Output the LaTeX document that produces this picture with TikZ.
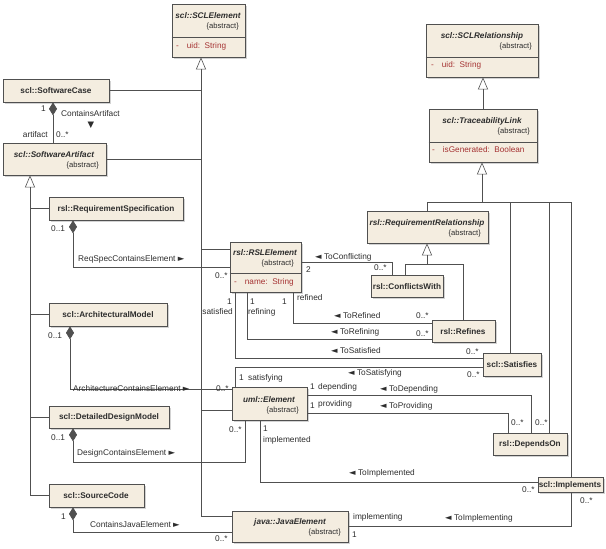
\documentclass[tikz,border=0pt]{standalone}
\usepackage{fontspec}
\setmainfont{Liberation Sans}
\newfontfamily\symfont{DejaVu Sans}
\usetikzlibrary{arrows.meta,shadows}

\definecolor{boxfill}{RGB}{244,237,224}
\definecolor{boxline}{RGB}{80,80,80}
\definecolor{attrred}{RGB}{165,50,50}
\definecolor{txtgray}{RGB}{45,45,45}
\newcommand{\nav}[1]{{\symfont\fontsize{8.5}{8.5}\selectfont #1}}

\tikzset{
  cls/.style={draw=boxline, fill=boxfill, line width=.7pt, inner sep=0pt,
    drop shadow={shadow xshift=1.5pt, shadow yshift=-1.5pt, opacity=.35}},
  title/.style={font=\bfseries\fontsize{8.2}{9}\selectfont, text=txtgray},
  atitle/.style={font=\bfseries\itshape\fontsize{8.2}{9}\selectfont, text=txtgray},
  abst/.style={anchor=east, inner sep=0pt, font=\fontsize{7.6}{9}\selectfont, text=txtgray},
  attr/.style={anchor=west, inner sep=0pt, font=\fontsize{8.2}{9}\selectfont, text=attrred},
  lbl/.style={anchor=west, inner sep=0pt, font=\fontsize{8.3}{9}\selectfont, text=txtgray},
  lble/.style={lbl, anchor=east},
  conn/.style={draw=boxline, line width=.6pt},
  gen/.style={conn, -{Triangle[open, length=12pt, width=10pt]}},
  comp/.style={conn, {Diamond[length=13pt, width=8pt]}-},
}

\begin{document}
\begin{tikzpicture}[x=1pt, y=-1pt]
\useasboundingbox (0,0) rectangle (606,549);

% classes
\node (sclel) at (208.5, 30.5) [cls, minimum width=73pt, minimum height=53pt] {};
\node (rel) at (482, 50.5) [cls, minimum width=112pt, minimum height=53pt] {};
\node (tl) at (483, 135.5) [cls, minimum width=108pt, minimum height=53pt] {};
\node (sc) at (56, 90.5) [cls, minimum width=106pt, minimum height=23pt] {};
\node (sa) at (54.5, 159) [cls, minimum width=103pt, minimum height=32pt] {};
\node (req) at (116, 208.5) [cls, minimum width=134pt, minimum height=23pt] {};
\node (arch) at (108, 314.5) [cls, minimum width=118pt, minimum height=23pt] {};
\node (rsl) at (265.5, 267) [cls, minimum width=71pt, minimum height=50pt] {};
\node (rr) at (427.5, 227) [cls, minimum width=121pt, minimum height=32pt] {};
\node (cw) at (407, 286) [cls, minimum width=72pt, minimum height=22pt] {};
\node (ref) at (463.5, 331) [cls, minimum width=63pt, minimum height=22pt] {};
\node (sat) at (512, 364.5) [cls, minimum width=58pt, minimum height=23pt] {};
\node (uml) at (269.5, 403.5) [cls, minimum width=75pt, minimum height=33pt] {};
\node (ddm) at (109, 417) [cls, minimum width=120pt, minimum height=22pt] {};
\node (dep) at (530, 444) [cls, minimum width=74pt, minimum height=22pt] {};
\node (impl) at (570.5, 484.5) [cls, minimum width=65pt, minimum height=15pt] {};
\node (src) at (96.5, 495.5) [cls, minimum width=95pt, minimum height=23pt] {};
\node (java) at (290, 526.5) [cls, minimum width=116pt, minimum height=31pt] {};

% compartments
\draw [conn] (sclel.west |- 0,37) -- (sclel.east |- 0,37);
\draw [conn] (rel.west |- 0,57) -- (rel.east |- 0,57);
\draw [conn] (tl.west |- 0,142) -- (tl.east |- 0,142);
\draw [conn] (rsl.west |- 0,273) -- (rsl.east |- 0,273);

% class texts
\node at (208, 16) [atitle] {scl::SCLElement};
\node at (239, 27) [abst] {\{abstract\}};
\node at (176, 46) [attr] {-\hspace{8pt}uid:\ \ String};
\node at (482, 36) [atitle] {scl::SCLRelationship};
\node at (532, 47) [abst] {\{abstract\}};
\node at (431, 65) [attr] {-\hspace{8pt}uid:\ \ String};
\node at (482, 121) [atitle] {scl::TraceabilityLink};
\node at (530, 132) [abst] {\{abstract\}};
\node at (432, 150) [attr] {-\hspace{8pt}isGenerated:\ \ Boolean};
\node at (56, 91) [title] {scl::SoftwareCase};
\node at (54, 155) [atitle] {scl::SoftwareArtifact};
\node at (99, 166) [abst] {\{abstract\}};
\node at (116, 209) [title] {rsl::RequirementSpecification};
\node at (108, 315) [title] {scl::ArchitecturalModel};
\node at (265, 253) [atitle] {rsl::RSLElement};
\node at (294, 264) [abst] {\{abstract\}};
\node at (234, 282) [attr] {-\hspace{8pt}name:\ \ String};
\node at (427, 223) [atitle] {rsl::RequirementRelationship};
\node at (481, 234) [abst] {\{abstract\}};
\node at (407, 287) [title] {rsl::ConflictsWith};
\node at (463, 332) [title] {rsl::Refines};
\node at (512, 365) [title] {scl::Satisfies};
\node at (269, 400) [atitle] {uml::Element};
\node at (299, 411) [abst] {\{abstract\}};
\node at (109, 417) [title] {scl::DetailedDesignModel};
\node at (530, 444) [title] {rsl::DependsOn};
\node at (570, 485) [title] {scl::Implements};
\node at (96, 496) [title] {scl::SourceCode};
\node at (290, 522) [atitle] {java::JavaElement};
\node at (341, 533) [abst] {\{abstract\}};

% generalizations
\draw [gen] (java.west |- 0,516) -| (201,0 |- sclel.south);
\draw [conn] (sc.east) -- (sc.east -| 201,0);
\draw [conn] (sa.east) -- (sa.east -| 201,0);
\draw [conn] (rsl.west |- 0,249) -- (201,249);
\draw [conn] (uml.west |- 0,410) -- (201,410);
\draw [gen] (src.west) -| (30,0 |- sa.south);
\draw [conn] (req.west) -- (req.west -| 30,0);
\draw [conn] (arch.west) -- (arch.west -| 30,0);
\draw [conn] (ddm.west) -- (ddm.west -| 30,0);
\draw [gen] (tl.north) -- (tl.north |- rel.south);
\draw [gen] (482,202) -- (482,0 |- tl.south);
\draw [conn] (rr.north) |- (571,202) -- (571,0 |- impl.north);
\draw [conn] (510,202) -- (510,0 |- sat.north);
\draw [conn] (549,202) -- (549,0 |- dep.north);
\draw [gen] (427,264) -- (427,0 |- rr.south);
\draw [conn] (405,0 |- cw.north) |- (463,264) -- (463,0 |- ref.north);

% compositions
\draw [comp] (53,0 |- sc.south) -- (53,0 |- sa.north);
\draw [comp] (73,0 |- req.south) |- (rsl.west);
\draw [comp] (70,0 |- arch.south) |- (uml.west |- 0,389);
\draw [comp] (73,0 |- ddm.south) |- (245,462) -- (245,0 |- uml.south);
\draw [comp] (73,0 |- src.south) |- (java.west |- 0,532);

% associations
\draw [conn] (rsl.east |- 0,262) -| (392,0 |- cw.north);
\draw [conn] (293,0 |- rsl.south) |- (ref.west |- 0,323);
\draw [conn] (247,0 |- rsl.south) |- (ref.west |- 0,339);
\draw [conn] (235,0 |- rsl.south) |- (sat.west |- 0,358);
\draw [conn] (235,0 |- uml.north) |- (sat.west |- 0,367);
\draw [conn] (uml.east |- 0,395) -| (531,0 |- dep.north);
\draw [conn] (uml.east |- 0,413) -| (508,0 |- dep.north);
\draw [conn] (260,0 |- uml.south) |- (impl.west |- 0,482);
\draw [conn] (java.east |- 0,526) -| (571,0 |- impl.south);

% labels
\node at (41, 109) [lbl] {1};
\node at (61, 114) [lbl] {ContainsArtifact};
\node at (91, 125) [lbl, anchor=center] {\nav{▼}};
\node at (48, 135) [lble] {artifact};
\node at (56, 135) [lbl] {0..*};
\node at (51, 229) [lbl] {0..1};
\node at (78, 259) [lbl] {ReqSpecContainsElement \nav{►}};
\node at (215, 276) [lbl] {0..*};
\node at (48, 336) [lbl] {0..1};
\node at (73, 389) [lbl] {ArchitectureContainsElement \nav{►}};
\node at (216, 389) [lbl] {0..*};
\node at (51, 438) [lbl] {0..1};
\node at (77, 453) [lbl] {DesignContainsElement \nav{►}};
\node at (229, 430) [lbl] {0..*};
\node at (61, 517) [lbl] {1};
\node at (90, 525) [lbl] {ContainsJavaElement \nav{►}};
\node at (215, 539) [lbl] {0..*};
\node at (315, 257) [lbl] {\nav{◄} ToConflicting};
\node at (306, 270) [lbl] {2};
\node at (374, 268) [lbl] {0..*};
\node at (282, 302) [lbl] {1};
\node at (297, 298) [lbl] {refined};
\node at (250, 302) [lbl] {1};
\node at (248, 312) [lbl] {refining};
\node at (227, 302) [lbl] {1};
\node at (233, 312) [lble] {satisfied};
\node at (334, 316) [lbl] {\nav{◄} ToRefined};
\node at (416, 316) [lbl] {0..*};
\node at (331, 332) [lbl] {\nav{◄} ToRefining};
\node at (416, 334) [lbl] {0..*};
\node at (331, 351) [lbl] {\nav{◄} ToSatisfied};
\node at (466, 352) [lbl] {0..*};
\node at (239, 378) [lbl] {1};
\node at (248, 378) [lbl] {satisfying};
\node at (348, 373) [lbl] {\nav{◄} ToSatisfying};
\node at (467, 375) [lbl] {0..*};
\node at (310, 387) [lbl] {1};
\node at (318, 387) [lbl] {depending};
\node at (380, 389) [lbl] {\nav{◄} ToDepending};
\node at (310, 406) [lbl] {1};
\node at (318, 404) [lbl] {providing};
\node at (380, 406) [lbl] {\nav{◄} ToProviding};
\node at (511, 423) [lbl] {0..*};
\node at (535, 423) [lbl] {0..*};
\node at (263, 429) [lbl] {1};
\node at (263, 440) [lbl] {implemented};
\node at (349, 473) [lbl] {\nav{◄} ToImplemented};
\node at (522, 490) [lbl] {0..*};
\node at (353, 517) [lbl] {implementing};
\node at (352, 535) [lbl] {1};
\node at (445, 518) [lbl] {\nav{◄} ToImplementing};
\node at (580, 501) [lbl] {0..*};
\end{tikzpicture}
\end{document}
